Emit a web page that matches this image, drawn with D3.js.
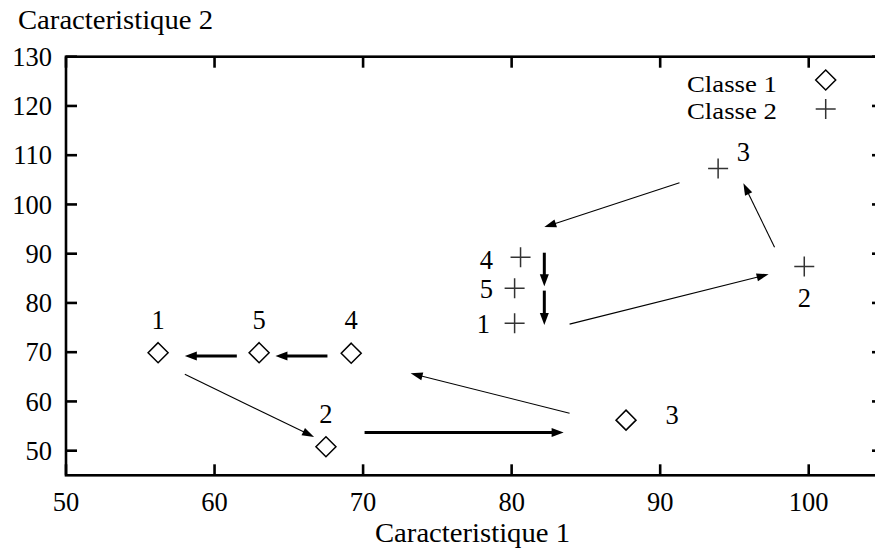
<!DOCTYPE html>
<html><head><meta charset="utf-8">
<script src="https://cdn.jsdelivr.net/npm/d3@7"></script>
<style>
html,body{margin:0;padding:0;background:#fff;}
svg text{font-family:"Liberation Serif","Times New Roman",serif;fill:#000;}
</style></head>
<body><svg id="chart" width="875" height="557"></svg>
<script>
// ---- data ----
const xTicks = [50, 60, 70, 80, 90, 100];
const yTicks = [50, 60, 70, 80, 90, 100, 110, 120, 130];
const pointNames = ["1", "2", "3", "4", "5"];
const classe1X = [56.2, 67.5, 87.7, 69.2, 63.0];
const classe1Y = [69.9, 50.8, 56.2, 69.8, 69.9];
const classe2X = [80.2, 99.7, 93.9, 80.6, 80.2];
const classe2Y = [75.9, 87.4, 107.3, 89.3, 83.0];
const classe1LabelX = [56.2, 67.5, 90.8, 69.2, 63.0];
const classe1LabelY = [76.5, 57.6, 57.4, 76.5, 76.5];
const classe2LabelX = [78.1, 99.7, 95.6, 78.3, 78.3];
const classe2LabelY = [75.7, 81.0, 110.7, 88.7, 82.8];
const arrowX1 = [83.9, 70.1, 58.0, 61.5, 67.6, 83.9, 97.7, 91.3, 82.2, 82.2];
const arrowY1 = [57.6, 53.7, 65.5, 69.2, 69.2, 75.7, 91.3, 104.4, 90.2, 82.5];
const arrowX2 = [73.2, 83.5, 66.7, 58.0, 64.1, 97.3, 95.6, 82.2, 82.2, 82.2];
const arrowY2 = [65.7, 53.7, 52.8, 69.2, 69.2, 85.8, 104.3, 95.4, 83.4, 75.5];
const arrowHeavy = [false, true, false, true, true, false, false, false, true, true];
const legendLabels = ["Classe 1", "Classe 2"];
const xTitle = "Caracteristique 1";
const yTitle = "Caracteristique 2";

// ---- layout ----
const svg = d3.select("#chart");
const x = d3.scaleLinear().domain([50, 105]).range([66, 883]);
const y = d3.scaleLinear().domain([45, 130]).range([475.3, 56.7]);
const FS = 26.5;

const g = svg.append("g");

// border
g.append("rect").attr("x", x(50)).attr("y", y(130))
  .attr("width", x(105) - x(50)).attr("height", y(45) - y(130))
  .attr("fill", "none").attr("stroke", "#000").attr("stroke-width", 2.6);

// ticks (inward, mirrored)
const TL = 11;
xTicks.forEach(t => {
  g.append("line").attr("x1", x(t)).attr("x2", x(t)).attr("y1", y(45)).attr("y2", y(45) - TL)
    .attr("stroke", "#000").attr("stroke-width", 2.6);
  g.append("line").attr("x1", x(t)).attr("x2", x(t)).attr("y1", y(130)).attr("y2", y(130) + TL)
    .attr("stroke", "#000").attr("stroke-width", 2.6);
  g.append("text").attr("x", x(t)).attr("y", y(45) + 26).attr("dy", "0.35em")
    .attr("text-anchor", "middle").attr("font-size", FS).text(t);
});
yTicks.forEach(t => {
  g.append("line").attr("x1", x(50)).attr("x2", x(50) + TL).attr("y1", y(t)).attr("y2", y(t))
    .attr("stroke", "#000").attr("stroke-width", 2.6);
  g.append("line").attr("x1", x(105)).attr("x2", x(105) - TL).attr("y1", y(t)).attr("y2", y(t))
    .attr("stroke", "#000").attr("stroke-width", 2.6);
  g.append("text").attr("x", x(50) - 14).attr("y", y(t)).attr("dy", "0.35em")
    .attr("text-anchor", "end").attr("font-size", FS).text(t);
});

// titles
g.append("text").attr("x", 18).attr("y", 20).attr("dy", "0.35em")
  .attr("font-size", FS).attr("textLength", 195).attr("lengthAdjust", "spacingAndGlyphs").text(yTitle);
g.append("text").attr("x", 375).attr("y", 533).attr("dy", "0.35em")
  .attr("font-size", FS).attr("textLength", 195).attr("lengthAdjust", "spacingAndGlyphs").text(xTitle);

// arrows
arrowX1.forEach((_, i) => {
  const x1 = x(arrowX1[i]), y1 = y(arrowY1[i]), x2 = x(arrowX2[i]), y2 = y(arrowY2[i]);
  const heavy = arrowHeavy[i];
  const ang = Math.atan2(y2 - y1, x2 - x1);
  const L = 12, W = heavy ? 4.5 : 4;
  const bx = x2 - L * Math.cos(ang), by = y2 - L * Math.sin(ang);
  g.append("line").attr("x1", x1).attr("y1", y1).attr("x2", bx + 2 * Math.cos(ang)).attr("y2", by + 2 * Math.sin(ang))
    .attr("stroke", "#000").attr("stroke-width", heavy ? 3 : 1.1);
  const p = [[x2, y2],
    [bx - W * Math.sin(ang), by + W * Math.cos(ang)],
    [bx + W * Math.sin(ang), by - W * Math.cos(ang)]];
  g.append("polygon").attr("points", p.map(d => d.join(",")).join(" ")).attr("fill", "#000");
});

// markers
function diamond(sel, cx, cy) {
  const r = 10;
  sel.append("path").attr("d", `M${cx},${cy - r}L${cx + r},${cy}L${cx},${cy + r}L${cx - r},${cy}Z`)
    .attr("fill", "none").attr("stroke", "#000").attr("stroke-width", 1.5);
}
function plus(sel, cx, cy) {
  const r = 10;
  sel.append("path").attr("d", `M${cx - r},${cy}H${cx + r}M${cx},${cy - r}V${cy + r}`)
    .attr("fill", "none").attr("stroke", "#333").attr("stroke-width", 1.5);
}
classe1X.forEach((v, i) => diamond(g, x(v), y(classe1Y[i])));
classe2X.forEach((v, i) => plus(g, x(v), y(classe2Y[i])));

// point labels
pointNames.forEach((n, i) => {
  g.append("text").attr("x", x(classe1LabelX[i])).attr("y", y(classe1LabelY[i])).attr("dy", "0.35em")
    .attr("text-anchor", "middle").attr("font-size", FS).text(n);
  g.append("text").attr("x", x(classe2LabelX[i])).attr("y", y(classe2LabelY[i])).attr("dy", "0.35em")
    .attr("text-anchor", "middle").attr("font-size", FS).text(n);
});

// legend
const legY = [83.5, 110.5];
legendLabels.forEach((l, i) => {
  g.append("text").attr("x", 777).attr("y", legY[i]).attr("dy", "0.35em")
    .attr("text-anchor", "end").attr("font-size", 23)
    .attr("textLength", 90).attr("lengthAdjust", "spacingAndGlyphs").text(l);
});
diamond(g, 825.7, 80);
plus(g, 825.7, 109);
</script></body></html>
